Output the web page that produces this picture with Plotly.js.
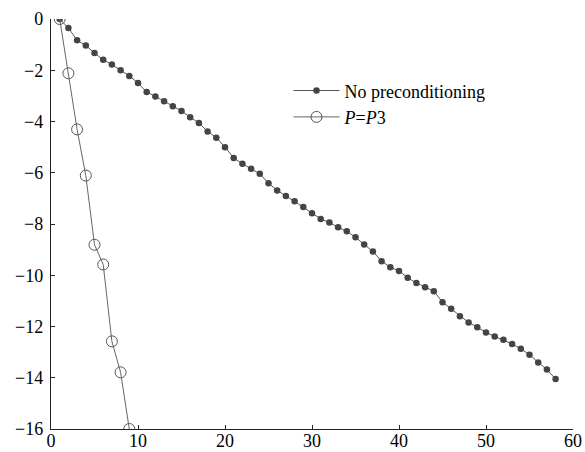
<!DOCTYPE html>
<html>
<head>
<meta charset="utf-8">
<script src="https://cdn.plot.ly/plotly-3.0.1.min.js"></script>
<style>html,body{margin:0;padding:0;background:#fff;}#chart{width:585px;height:452px;}</style>
</head>
<body>
<div id="chart"></div>
<script>
var iterNoPre = [1,2,3,4,5,6,7,8,9,10,11,12,13,14,15,16,17,18,19,20,21,22,23,24,25,26,27,28,29,30,31,32,33,34,35,36,37,38,39,40,41,42,43,44,45,46,47,48,49,50,51,52,53,54,55,56,57,58];
var resNoPre = [0,-0.35,-0.83,-1.03,-1.33,-1.59,-1.78,-2.0,-2.22,-2.5,-2.85,-3.02,-3.21,-3.40,-3.59,-3.83,-4.06,-4.39,-4.63,-5.0,-5.42,-5.65,-5.84,-6.04,-6.41,-6.69,-6.91,-7.11,-7.34,-7.58,-7.80,-7.94,-8.13,-8.28,-8.52,-8.80,-9.07,-9.45,-9.69,-9.83,-10.10,-10.30,-10.47,-10.62,-11.05,-11.31,-11.60,-11.84,-12.03,-12.23,-12.39,-12.52,-12.68,-12.87,-13.10,-13.40,-13.68,-14.05];
var iterP3 = [1,2,3,4,5,6,7,8,9];
var resP3 = [0,-2.12,-4.31,-6.11,-8.81,-9.58,-12.58,-13.79,-16.0];
var nameNoPre = "No preconditioning";
var nameP3 = "<i>P</i>=<i>P</i>3";
var xTicks = [0,10,20,30,40,50,60];
var yTicks = [0,-2,-4,-6,-8,-10,-12,-14,-16];

var serif = "Liberation Serif";

var traces = [
  {x: iterNoPre, y: resNoPre, name: nameNoPre, mode: "lines+markers", type: "scatter",
   line: {color: "#555555", width: 1},
   marker: {symbol: "circle", size: 6.5, color: "#444444"}},
  {x: iterP3, y: resP3, name: nameP3, mode: "lines+markers", type: "scatter",
   line: {color: "#666666", width: 1},
   marker: {symbol: "circle-open", size: 11, color: "#555555", line: {width: 1, color: "#555555"}}}
];

var layout = {
  width: 585, height: 452,
  margin: {l: 51, r: 12, t: 19, b: 23, pad: 0},
  paper_bgcolor: "#ffffff", plot_bgcolor: "#ffffff",
  font: {family: serif, size: 18, color: "#000000"},
  showlegend: true,
  legend: {x: 0.455, y: 0.87, xanchor: "left", yanchor: "top", bgcolor: "rgba(0,0,0,0)",
           itemwidth: 46,
           font: {family: serif, size: 18, color: "#000000"}},
  xaxis: {range: [0, 60], tickvals: xTicks, ticks: "inside", ticklen: 4, tickcolor: "#222",
          showline: true, linecolor: "#222", linewidth: 1.2, showgrid: false, zeroline: false,
          mirror: false, ticklabelstandoff: -5, tickfont: {family: serif, size: 18, color: "#000000"}},
  yaxis: {range: [-16, 0], tickvals: yTicks, ticks: "inside", ticklen: 4, tickcolor: "#222",
          showline: true, linecolor: "#222", linewidth: 1.2, showgrid: false, zeroline: false,
          mirror: false, ticklabelstandoff: 3, tickfont: {family: serif, size: 18, color: "#000000"}}
};

Plotly.newPlot("chart", traces, layout, {staticPlot: true, displayModeBar: false});
</script>
</body>
</html>
